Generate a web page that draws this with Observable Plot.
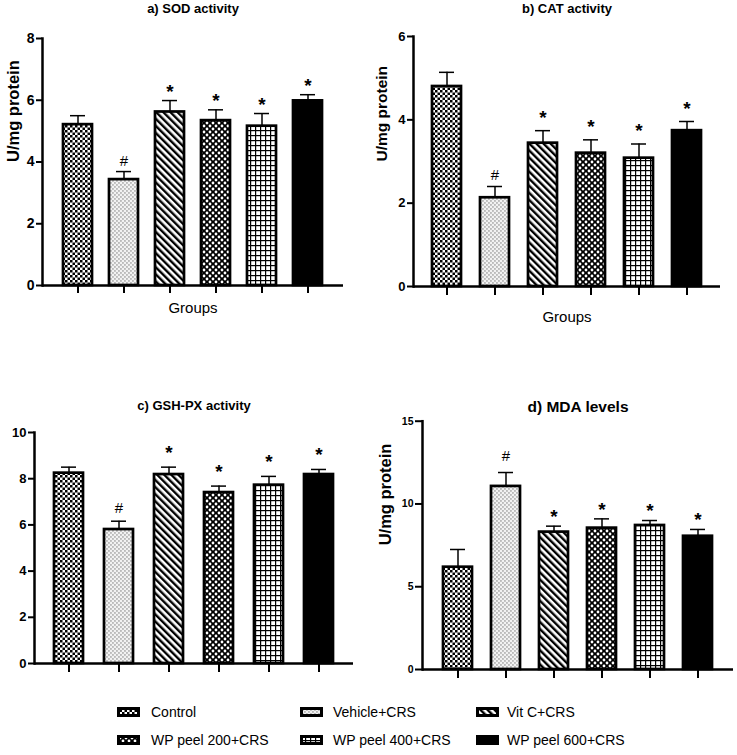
<!DOCTYPE html>
<html><head><meta charset="utf-8">
<script src="https://cdn.jsdelivr.net/npm/d3@7"></script>
<script src="https://cdn.jsdelivr.net/npm/@observablehq/plot@0.6"></script>
<style>
body{margin:0;background:#fff;font-family:"Liberation Sans",Arial,Helvetica,sans-serif;}
#root{position:relative;width:737px;height:755px;overflow:hidden;background:#fff;}
.panel{position:absolute;}
.leg{position:absolute;font-size:14px;color:#000;white-space:nowrap;line-height:16px;}
.sw{position:absolute;}
</style></head><body><div id="root"></div>
<script>
// ---- data ----
const groups = ["Control","Vehicle+CRS","Vit C+CRS","WP peel 200+CRS","WP peel 400+CRS","WP peel 600+CRS"];
const sig = ["", "#", "*", "*", "*", "*"];
const sigMDA = ["", "#", "*", "*", "*", "*"];

const sodMean = [5.21, 3.43, 5.62, 5.34, 5.16, 5.98];
const sodSem  = [0.29, 0.26, 0.37, 0.35, 0.41, 0.20];
const catMean = [4.80, 2.13, 3.44, 3.20, 3.08, 3.74];
const catSem  = [0.34, 0.27, 0.30, 0.32, 0.34, 0.22];
const gshMean = [8.24, 5.80, 8.18, 7.40, 7.72, 8.18];
const gshSem  = [0.26, 0.36, 0.32, 0.28, 0.38, 0.22];
const mdaMean = [6.18, 11.06, 8.30, 8.54, 8.70, 8.05];
const mdaSem  = [1.07, 0.84, 0.36, 0.56, 0.30, 0.41];

const sodTicks = [0, 2, 4, 6, 8];
const catTicks = [0, 2, 4, 6];
const gshTicks = [0, 2, 4, 6, 8, 10];
const mdaTicks = [0, 5, 10, 15];

const FONT = '"Liberation Sans", Arial, Helvetica, sans-serif';

function addPatterns(svg, p) {
  const defs = d3.select(svg).insert("defs", ":first-child");
  const mk = (i, w, h, tr) => {
    const pat = defs.append("pattern").attr("id", p + i).attr("patternUnits", "userSpaceOnUse")
      .attr("width", w).attr("height", h);
    if (tr) pat.attr("patternTransform", tr);
    return pat;
  };
  // 0 checkerboard
  let pat = mk(0, 5, 5);
  pat.append("rect").attr("width", 5).attr("height", 5).attr("fill", "#fff");
  pat.append("rect").attr("width", 2.5).attr("height", 2.5).attr("fill", "#000");
  pat.append("rect").attr("x", 2.5).attr("y", 2.5).attr("width", 2.5).attr("height", 2.5).attr("fill", "#000");
  // 1 light dotted
  pat = mk(1, 4, 4);
  pat.append("rect").attr("width", 4).attr("height", 4).attr("fill", "#f2f2f2");
  pat.append("rect").attr("x", 0.3).attr("y", 0.3).attr("width", 1.3).attr("height", 1.3).attr("fill", "#808080");
  pat.append("rect").attr("x", 2.3).attr("y", 2.3).attr("width", 1.3).attr("height", 1.3).attr("fill", "#808080");
  // 2 diagonal stripes
  pat = mk(2, 5, 5, "rotate(-45)");
  pat.append("rect").attr("width", 5).attr("height", 5).attr("fill", "#fff");
  pat.append("rect").attr("width", 2.4).attr("height", 5).attr("fill", "#000");
  // 3 black with white diamonds
  pat = mk(3, 6, 6);
  pat.append("rect").attr("width", 6).attr("height", 6).attr("fill", "#000");
  for (const [cx, cy] of [[0,0],[6,0],[0,6],[6,6],[3,3]])
    pat.append("circle").attr("cx", cx).attr("cy", cy).attr("r", 1.4).attr("fill", "#fff");
  // 4 grid
  pat = mk(4, 5, 5);
  pat.append("rect").attr("width", 5).attr("height", 5).attr("fill", "#fff");
  pat.append("rect").attr("width", 5).attr("height", 1.2).attr("fill", "#000");
  pat.append("rect").attr("width", 1.2).attr("height", 5).attr("fill", "#000");
}

function panel(c) {
  const data = groups.map((g, i) => ({group: g, v: c.mean[i], e: c.sem[i], s: c.sig[i]}));
  const p = c.id + "pat";
  const range = groups.map((g, i) => i === 5 ? "#000" : `url(#${p}${i})`);
  const marks = [
    Plot.ruleX(data, {x: "group", y1: "v", y2: d => d.v + d.e, stroke: "#000", strokeWidth: 1.5}),
    Plot.tickY(data, {x: "group", y: d => d.v + d.e, stroke: "#000", strokeWidth: 1.5, insetLeft: 7, insetRight: 7}),
    Plot.barY(data, {x: "group", y: "v", fill: "group", stroke: "#000", strokeWidth: 2.7}),
    Plot.ruleY([0], {stroke: "#000", strokeWidth: 2.5}),
    Plot.frame({anchor: "left", stroke: "#000", strokeWidth: 2.5}),
    Plot.axisY({ticks: c.ticks, tickSize: c.tickSize, tickPadding: 2, fontSize: c.tickFont, fontWeight: "bold", strokeWidth: 2, label: null, tickFormat: d => String(d)}),
    Plot.axisX({tickSize: c.xTick, strokeWidth: 2, tickFormat: () => "", label: null}),
    Plot.text(data.filter(d => d.s === "*"), {x: "group", y: d => d.v + d.e, text: "s", fontSize: 19, fontWeight: "bold", lineAnchor: "middle", dy: -(c.starOff - 4.3)}),
    Plot.text(data.filter(d => d.s === "#"), {x: "group", y: d => d.v + d.e, text: "s", fontSize: 15, lineAnchor: "middle", dy: -(c.hashOff - 0.6)}),
    Plot.text([c.title], {frameAnchor: "top", text: d => d, dy: c.titleDy, fontSize: c.titleSize, fontWeight: "bold", lineAnchor: "middle"})
  ];
  if (c.ylabel) marks.push(Plot.text([c.ylabel], {frameAnchor: "left", text: d => d, rotate: -90, dx: c.ylabelDx, fontSize: c.ylabelSize, fontWeight: "bold", lineAnchor: "middle"}));
  if (c.groupsDy) marks.push(Plot.text(["Groups"], {frameAnchor: "bottom", text: d => d, dy: c.groupsDy, fontSize: 15, lineAnchor: "middle"}));
  const svg = Plot.plot({
    width: c.width, height: c.height,
    marginLeft: c.ml, marginRight: c.mr, marginTop: c.mt, marginBottom: c.mb,
    style: {fontFamily: FONT, background: "transparent", color: "#000", overflow: "visible"},
    x: {domain: groups, paddingInner: c.pi, paddingOuter: c.po, axis: null},
    y: {domain: c.domain, axis: null},
    color: {type: "ordinal", domain: groups, range},
    marks
  });
  addPatterns(svg, p);
  svg.classList.add("panel");
  svg.style.left = c.left + "px";
  svg.style.top = c.top + "px";
  svg.style.position = "absolute";
  document.getElementById("root").appendChild(svg);
}

panel({id: "a", left: 0, top: 0, width: 370, height: 320, ml: 42, mr: 27, mt: 38, mb: 35,
  domain: [0, 8], ticks: sodTicks, tickFont: 14, tickSize: 6, xTick: 8, pi: 0.38, po: 0.4,
  mean: sodMean, sem: sodSem, sig: sig, title: "a) SOD activity", titleSize: 13, titleDy: -29.5,
  ylabel: "U/mg protein", ylabelDx: -29, ylabelSize: 16.5, groupsDy: 23, starOff: 13, hashOff: 10.5});

panel({id: "b", left: 370, top: 0, width: 367, height: 330, ml: 43, mr: 17, mt: 36, mb: 44,
  domain: [0, 6], ticks: catTicks, tickFont: 13, tickSize: 6, xTick: 9, pi: 0.4, po: 0.385,
  mean: catMean, sem: catSem, sig: sig, title: "b) CAT activity", titleSize: 13, titleDy: -27.5,
  ylabel: "U/mg protein", ylabelDx: -31, ylabelSize: 15.5, groupsDy: 31, starOff: 17, hashOff: 11.7});

panel({id: "c", left: 0, top: 390, width: 370, height: 300, ml: 34, mr: 17, mt: 42, mb: 27,
  domain: [0, 10], ticks: gshTicks, tickFont: 13, tickSize: 6, xTick: 9, pi: 0.42, po: 0.385,
  mean: gshMean, sem: gshSem, sig: sig, title: "c) GSH-PX activity", titleSize: 13, titleDy: -27,
  ylabel: null, groupsDy: null, starOff: 18.5, hashOff: 13.2});

panel({id: "d", left: 370, top: 390, width: 367, height: 300, ml: 52, mr: 4, mt: 30.7, mb: 21,
  domain: [0, 15], ticks: mdaTicks, tickFont: 10.5, tickSize: 7, xTick: 9, pi: 0.4, po: 0.4,
  mean: mdaMean, sem: mdaSem, sig: sigMDA, title: "d) MDA levels", titleSize: 15.5, titleDy: -14,
  ylabel: "U/mg protein", ylabelDx: -37, ylabelSize: 16.5, groupsDy: null, starOff: 13.5, hashOff: 16.7});

// ---- legend ----
const legPos = [[118, 151, 712], [301, 333, 712], [477, 507, 712], [118, 151, 740], [301, 333, 740], [477, 507, 740]];
const root = document.getElementById("root");
groups.forEach((g, i) => {
  const [sx, tx, cy] = legPos[i];
  const svg = d3.create("svg").attr("width", 24).attr("height", 11).attr("class", "sw")
    .style("left", (sx - 1) + "px").style("top", (cy - 5) + "px");
  const node = svg.node();
  addPatterns(node, "leg" + i + "p");
  svg.append("rect").attr("x", 1.5).attr("y", 1.5).attr("width", 20).attr("height", 7)
    .attr("fill", i === 5 ? "#000" : `url(#leg${i}p${i})`).attr("stroke", "#000").attr("stroke-width", 3);
  root.appendChild(node);
  const t = document.createElement("div");
  t.className = "leg"; t.textContent = g;
  t.style.left = tx + "px"; t.style.top = (cy - 8) + "px";
  root.appendChild(t);
});
</script>
</body></html>
